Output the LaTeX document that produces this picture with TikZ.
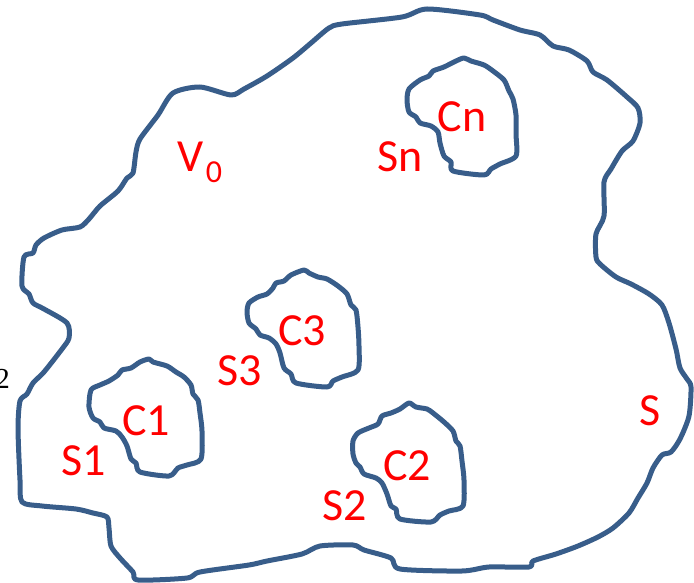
\documentclass[tikz,border=0pt]{standalone}
\usepackage{fontspec}
\setmainfont{Carlito}
\newfontfamily\serifb{Liberation Serif}
\definecolor{blobblue}{HTML}{385D8A}
\begin{document}
\begin{tikzpicture}[x=1pt,y=-1pt,
  blob/.style={draw=blobblue, line width=5pt, line join=round},
  lbl/.style={text=red, font=\fontsize{46}{50}\selectfont, inner sep=0pt, anchor=base}]
\useasboundingbox (0,0) rectangle (694,583);
% outer surface S
\draw[blob] plot[smooth cycle, tension=0.45] coordinates {
(402,17) (427,9) (480,15) (493,20) (520,30) (540,35) (553,46) (569,50) (587,61) (593,72)
(607,80) (627,97) (638,108) (640,123) (633,141) (622,151) (611,169) (604,182) (604,216)
(596,234) (596,257) (600,264) (616,277) (631,284) (649,294) (662,305) (669,323) (676,349)
(680,368) (687,379) (691,387) (689,416) (680,439) (671,452) (662,455) (653,468) (647,483)
(638,498) (629,513) (613,528) (598,537) (578,546) (556,554) (533,561) (529,567) (489,567)
(462,571) (400,569) (391,558) (364,550) (353,545) (320,546) (302,554) (267,561) (249,565)
(200,572) (187,578) (138,580) (133,572) (120,558) (111,546) (109,528) (107,517) (93,513)
(76,509) (42,506) (22,502) (20,480) (18,428) (20,401) (27,394) (33,383) (44,372) (62,349)
(69,338) (67,323) (44,309) (33,303) (29,294) (22,286) (24,257) (33,253) (36,245) (44,238)
(62,230) (80,227) (89,219) (100,206) (118,191) (127,178) (133,173) (136,152) (140,139)
(158,115) (173,93) (200,87) (231,95) (244,89) (267,76) (293,58) (311,43) (329,28) (342,24)};
% Cn
\draw[blob] plot[smooth cycle, tension=0.45] coordinates {
(464,58) (471,61) (484,65) (493,71) (504,80) (509,91) (513,99) (516,115) (516,134) (516,156)
(500,164) (491,169) (484,175) (453,171) (451,162) (444,156) (440,143) (438,132) (431,126)
(420,123) (416,117) (409,112) (407,100) (409,89) (420,80) (429,76) (433,71) (444,67) (456,61)};
% C3
\draw[blob] plot[smooth cycle, tension=0.45] coordinates {
(304,270) (309,273) (318,277) (327,279) (338,286) (347,294) (351,305) (356,310) (358,327)
(359,346) (358,370) (342,377) (333,381) (327,387) (296,383) (291,374) (284,368) (280,353)
(276,344) (269,338) (260,335) (256,329) (249,323) (247,312) (249,303) (258,297) (267,294)
(273,288) (276,283) (284,281) (291,275)};
% C1
\draw[blob] plot[smooth cycle, tension=0.45] coordinates {
(149,359) (153,362) (167,366) (176,372) (184,377) (191,385) (193,394) (198,400) (200,413)
(202,431) (201,459) (187,465) (178,468) (169,476) (140,472) (136,463) (131,459) (127,446)
(122,437) (116,431) (104,428) (100,422) (93,418) (89,407) (91,390) (100,385) (109,381)
(118,375) (122,370) (131,368) (140,362)};
% C2
\draw[blob] plot[smooth cycle, tension=0.45] coordinates {
(409,403) (416,407) (427,409) (433,413) (444,422) (453,431) (456,441) (460,446) (462,461)
(464,480) (463,506) (449,511) (440,515) (431,522) (400,519) (396,509) (391,506) (387,494)
(382,483) (376,478) (364,474) (360,467) (356,463) (353,454) (353,441) (358,433) (369,428)
(378,424) (382,416) (391,413) (400,409)};
% labels
\node[lbl] (cn) at (462,132) {Cn};
\node[lbl] (sn) at (400,172) {Sn};
\node[lbl] (v) at (191,172) {V};
\node[lbl, font=\fontsize{32}{34}\selectfont] (v0) at (214,183) {0};
\node[lbl] (c3) at (302,345) {C3};
\node[lbl] (s3) at (240,385) {S3};
\node[lbl] (c1) at (146,435) {C1};
\node[lbl] (s1) at (84,475) {S1};
\node[lbl] (c2) at (407,480) {C2};
\node[lbl] (s2) at (345,520) {S2};
\node[lbl] (s) at (650,425) {S};
\node[inner sep=0pt, anchor=base, font=\serifb\fontsize{29}{30}\selectfont] (two) at (2.5,388) {2};
\end{tikzpicture}
\end{document}
